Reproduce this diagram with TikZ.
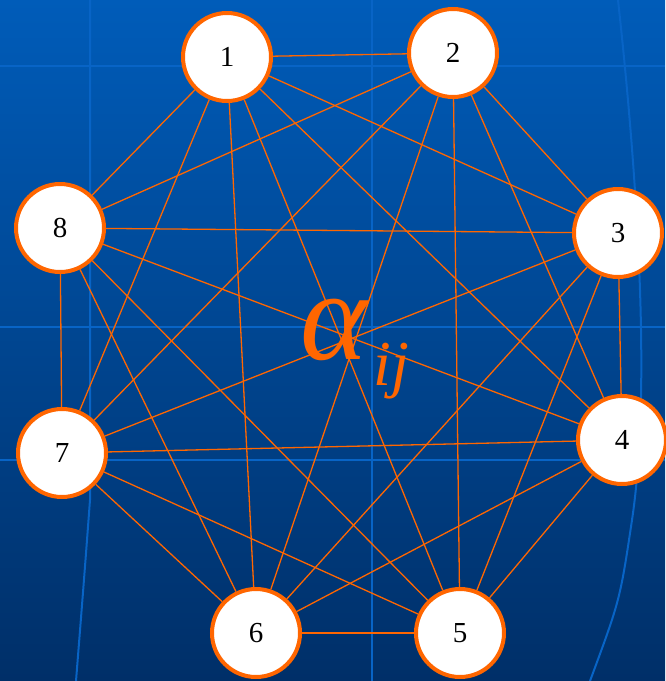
\documentclass[tikz,border=0pt]{standalone}
\usepackage{fontspec}
\setmainfont{Liberation Serif}
\definecolor{pporange}{HTML}{FF6600}
\definecolor{bgtop}{HTML}{005CB9}
\definecolor{bgbot}{HTML}{002F68}
\definecolor{bgline}{HTML}{0864C6}
\tikzset{
	vertex/.style={circle, draw=pporange, line width=4pt, fill=white, minimum size=88pt, inner sep=0pt, font=\fontsize{29}{29}\selectfont},
	edge/.style={pporange, line width=1.3pt},
	grid line/.style={bgline, line width=2pt}
}
\begin{document}
\begin{tikzpicture}[x=1pt,y=-1pt]
		\shade[top color=bgtop, bottom color=bgbot] (0,0) rectangle (665,681);
		\useasboundingbox (0,0) rectangle (665,681);
		% faint lines of the slide background
		\draw[grid line] (0,66) -- (665,66);
		\draw[grid line] (0,327) -- (665,327);
		\draw[grid line] (0,460) -- (665,460);
		\draw[grid line] (90,0) -- (90,500) .. controls (84,580) .. (76,681);
		\draw[grid line] (372,0) -- (372,681);
		\draw[grid line] (618,0) .. controls (640,200) and (650,400) .. (632,520) .. controls (620,600) .. (590,681);
		% the eight nodes
		\node[vertex] (n1) at (227,57) {1};
		\node[vertex] (n2) at (453,53) {2};
		\node[vertex] (n3) at (618,233) {3};
		\node[vertex] (n4) at (622,440) {4};
		\node[vertex] (n5) at (460,633) {5};
		\node[vertex] (n6) at (256,633) {6};
		\node[vertex] (n7) at (62,453) {7};
		\node[vertex] (n8) at (60,228) {8};
		% every pair is joined
		\foreach \i in {1,...,7}{
			\pgfmathtruncatemacro\k{\i+1}
			\foreach \j in {\k,...,8}
				\draw[edge] (n\i) -- (n\j);
		}
		\node[anchor=base west, inner sep=0pt, text=pporange, font=\itshape] (alpha) at (300,359)
			{{\fontsize{128}{128}\selectfont α}\hspace{6pt}\raisebox{-26pt}{\fontsize{64}{64}\selectfont ij}};
	\end{tikzpicture}
\end{document}
